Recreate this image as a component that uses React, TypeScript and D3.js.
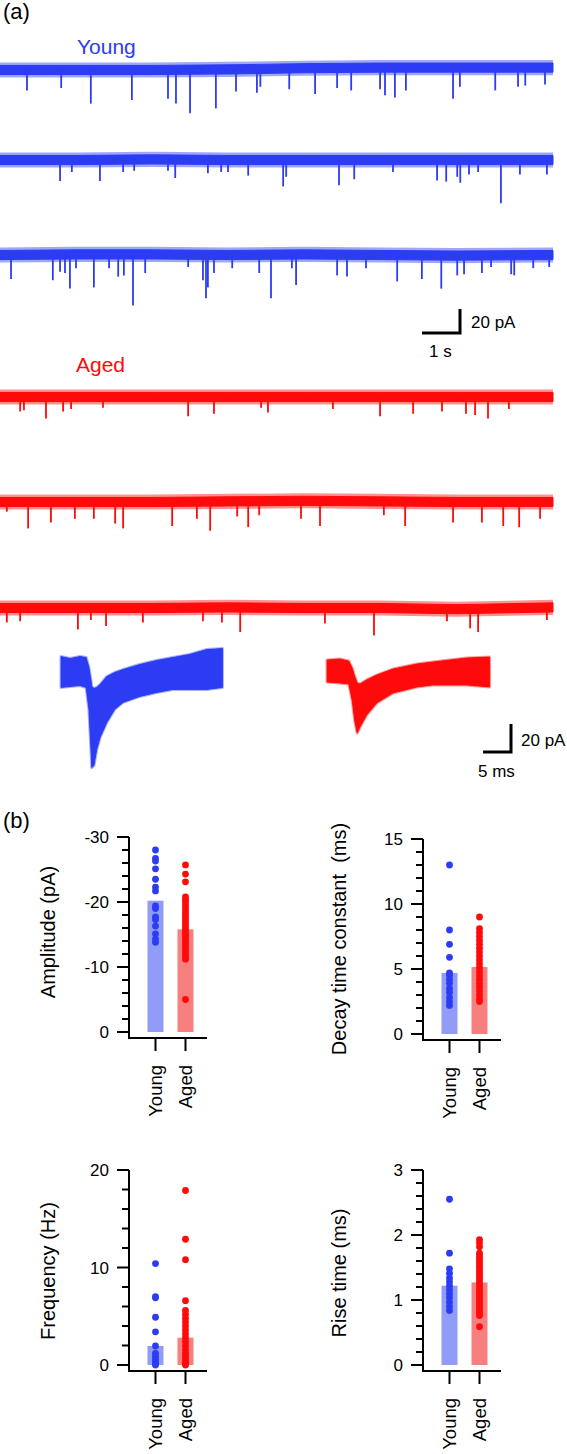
import React from 'react';
import * as d3 from 'd3';

const FONT = '"Liberation Sans", Arial, Helvetica, sans-serif';
const BLUE = '#2b3cf2';
const RED = '#ff0a0a';
const BLUE_BAR = '#909cf7';
const RED_BAR = '#f7807f';

const groups = ['Young', 'Aged'];

// ---------- (a) continuous recordings: events [time s, amplitude pA] ----------
const TRACE_DURATION_S = 14.55;
const driftTimes = [0, 2, 4, 6, 8, 10, 12, 14.55];

const youngDrift1 = [0, 0, 0, 0.5, 1.5, 2, 2, 2];
const youngDrift2 = [0, 0, 0.5, 0, 0, 0, 0, 0];
const youngDrift3 = [0, 0.5, 0.5, 0, 0.5, 0, -0.5, 0];
const agedDrift1 = [0, 0, 0, 0, 0, 0, 0, 0];
const agedDrift2 = [0, 0, 0, 0.5, 1, 0.5, 0, 0];
const agedDrift3 = [0, 0, 0, 0.5, 0, 0, -1, 0.5];

const youngEvents1: [number, number][] = [
  [0.71, -17], [1.61, -15], [2.39, -28], [3.47, -25], [4.42, -24], [4.63, -28], [5.0, -36],
  [5.68, -32], [6.21, -18], [6.76, -19], [6.85, -14], [7.61, -16], [8.29, -20], [8.87, -15],
  [9.24, -17], [10.0, -16], [10.13, -21], [10.39, -23], [10.68, -17], [11.92, -24], [12.1, -14],
  [13.03, -17], [13.63, -14], [13.82, -13], [14.34, -12],
];
const youngEvents2: [number, number][] = [
  [1.58, -17.5], [1.89, -10], [2.63, -17.5], [3.24, -10], [3.53, -9], [4.42, -9], [4.61, -15],
  [5.47, -11], [5.82, -10], [6.0, -10], [6.53, -13], [7.45, -22], [7.53, -14], [8.92, -21],
  [9.32, -16], [10.34, -10], [11.5, -17], [11.74, -18], [12.03, -14], [12.11, -19], [12.34, -12],
  [12.58, -10], [13.18, -36], [13.68, -12], [14.39, -12],
];
const youngEvents3: [number, number][] = [
  [0.29, -20], [1.39, -21], [1.58, -14], [1.71, -15], [1.84, -28], [2.0, -11], [2.47, -27],
  [2.87, -11], [3.11, -18], [3.26, -17], [3.5, -42], [3.82, -15], [4.95, -10], [5.34, -21],
  [5.42, -36], [5.47, -27], [5.63, -15], [6.11, -11], [6.82, -15], [7.13, -36], [7.68, -11],
  [7.79, -25], [8.87, -17], [9.13, -18], [9.63, -11], [10.45, -22], [11.1, -20], [11.61, -28],
  [12.03, -17], [12.21, -16], [12.68, -15], [12.92, -10], [13.45, -16], [13.53, -17],
  [14.03, -11], [14.45, -10],
];
const agedEvents1: [number, number][] = [
  [0.53, -12], [0.63, -11], [1.21, -18], [1.66, -12], [1.87, -10], [2.71, -9], [4.95, -16],
  [5.63, -14], [6.87, -9], [7.05, -13], [8.76, -10], [10.0, -16], [10.87, -14], [11.63, -12],
  [12.26, -14], [12.5, -15], [12.84, -18], [13.39, -10],
];
const agedEvents2: [number, number][] = [
  [0.18, -8], [0.74, -22], [1.34, -17], [1.97, -14], [2.47, -14], [3.03, -18], [3.24, -22],
  [4.53, -20], [5.18, -14], [5.53, -24], [6.24, -12], [6.53, -21], [6.82, -11], [7.92, -14],
  [8.42, -20], [10.1, -11], [10.66, -20], [11.92, -17], [12.68, -17], [13.24, -20],
  [13.66, -21], [14.21, -14],
];
const agedEvents3: [number, number][] = [
  [0.18, -12], [0.53, -11], [2.05, -18], [2.39, -10], [2.79, -15], [3.76, -12], [5.34, -11],
  [5.84, -12], [6.32, -20], [8.55, -13], [9.84, -23], [11.76, -11], [12.37, -17], [12.58, -20],
  [14.39, -10],
];

// ---------- (a) averaged events: envelope of overlaid sweeps [ms, pA] ----------
const youngAvgT = [0, 1.6, 3.4, 4.5, 5.0, 5.4, 5.5, 5.9, 6.4, 7.0, 8.2, 9.6, 11.1, 14.1, 17.1, 20, 23, 26.1, 28.9];
const youngAvgUpper = [11.4, 10, 11.4, 10.7, 3.6, -6.4, -10, -11.4, -10.7, -8.6, -2.9, 0, 2.1, 5.7, 8.6, 10.7, 12.9, 16.4, 17.1];
const youngAvgLower = [-10.7, -10, -9.3, -10.7, -26.4, -58.6, -67.9, -66.4, -55, -46.4, -35.7, -26.4, -21.4, -17.1, -14.3, -12.1, -12.1, -12.1, -10.7];

const agedAvgT = [0, 2.3, 3.9, 4.5, 5.0, 5.4, 5.9, 7.1, 8.9, 11.8, 16.1, 18.9, 25, 29.1];
const agedAvgUpper = [7.9, 8.6, 7.1, 2.1, -4.3, -8.6, -9.3, -6.4, -2.9, 1.4, 5, 6.4, 9.3, 10];
const agedAvgLower = [-7.9, -8.6, -9.3, -20.7, -36.4, -44.3, -40, -31.4, -22.9, -15.7, -11.4, -10, -10, -11.4];

// ---------- (b) summary data ----------
const ampYoung = [-28.0, -26.7, -26.3, -25.1, -23.5, -22.3, -21.7, -19.4, -19.0, -17.7, -17.3, -16.3, -15.1, -14.3, -13.8];
const ampAged = [-25.7, -24.3, -23.1, -20.8, -20.4, -20.0, -19.5, -19.0, -18.6, -18.2, -17.8, -17.4, -17.0, -16.6, -16.2, -15.8, -15.4, -15.0, -14.6, -14.2, -13.8, -13.4, -13.0, -12.5, -12.0, -11.6, -11.2, -5.0];
const ampMeans = [-20.2, -15.8];

const decayYoung = [13.0, 8.0, 6.9, 5.9, 4.7, 4.5, 4.2, 3.9, 3.5, 3.2, 2.8, 2.5, 2.2];
const decayAged = [9.0, 8.1, 7.8, 7.5, 7.2, 6.9, 6.6, 6.3, 6.0, 5.7, 5.4, 5.1, 4.8, 4.5, 4.2, 3.9, 3.6, 3.3, 3.0, 2.7, 2.5];
const decayMeans = [4.7, 5.15];

const freqYoung = [10.4, 7.0, 6.9, 4.9, 3.4, 1.95, 1.2, 0.9, 0.6, 0.3, 0.1, 0.0];
const freqAged = [17.9, 12.9, 10.8, 6.6, 5.6, 5.2, 4.8, 4.4, 4.0, 3.6, 3.2, 2.8, 2.4, 2.0, 1.6, 1.2, 0.9, 0.6, 0.3, 0.1, 0.0];
const freqMeans = [1.95, 2.8];

const riseYoung = [2.55, 1.72, 1.48, 1.41, 1.34, 1.28, 1.22, 1.16, 1.10, 1.04, 0.97, 0.90, 0.84];
const riseAged = [1.93, 1.88, 1.82, 1.72, 1.68, 1.64, 1.60, 1.56, 1.52, 1.48, 1.44, 1.40, 1.36, 1.32, 1.28, 1.24, 1.20, 1.16, 1.12, 1.08, 1.04, 1.00, 0.96, 0.92, 0.88, 0.84, 0.80, 0.76, 0.59];
const riseMeans = [1.22, 1.27];

// ---------- layout ----------
const W = 567;
const H = 1454;
const traceRowY = [70, 160, 255, 397, 502, 608];
const NOISE_CORE_PA = 3.8;
const NOISE_OUTER_PA = 6.3;

const xT = d3.scaleLinear().domain([0, TRACE_DURATION_S]).range([0, 553]);
const yT = d3.scaleLinear().domain([0, 20]).range([0, -24]);

const xAvg = d3.scaleLinear().domain([0, 29]).range([0, 162]);
const yAvg = d3.scaleLinear().domain([0, 20]).range([0, -28]);

function Trace({ cy, drift, events, color }: { cy: number; drift: number[]; events: [number, number][]; color: string }) {
  const band = (w: number) =>
    d3
      .area<number>()
      .x((_, i) => xT(driftTimes[i]))
      .y0((d) => cy + yT(d - w))
      .y1((d) => cy + yT(d + w))(drift) || '';
  return (
    <g>
      <path d={band(NOISE_OUTER_PA)} fill={color} opacity={0.45} />
      <path d={band(NOISE_CORE_PA)} fill={color} stroke={color} strokeWidth={1} />
      {events.map(([t, a], i) => (
        <line key={i} x1={xT(t)} x2={xT(t)} y1={cy} y2={cy + yT(a)} stroke={color} strokeWidth={1.8} />
      ))}
    </g>
  );
}

function AvgTrace({ x0, y0, t, up, lo, color }: { x0: number; y0: number; t: number[]; up: number[]; lo: number[]; color: string }) {
  const area = d3
    .area<number>()
    .x((d) => x0 + xAvg(d))
    .y0((_, i) => y0 + yAvg(lo[i]))
    .y1((_, i) => y0 + yAvg(up[i]));
  const d = area(t) || '';
  return (
    <g>
      <path d={d} fill={color} stroke={color} strokeOpacity={0.4} strokeWidth={3} strokeLinejoin="round" />
      <path d={d} fill={color} stroke={color} strokeWidth={0.8} strokeLinejoin="round" />
    </g>
  );
}

type PanelProps = {
  axisX: number;
  yTop: number;
  y0: number;
  domain: [number, number];
  majors: number[];
  minorStep: number;
  title: string;
  titleX: number;
  titleY: number;
  young: number[];
  aged: number[];
  means: number[];
};

function BarPanel(p: PanelProps) {
  const y = d3.scaleLinear().domain(p.domain).range([p.y0, p.yTop]);
  const x = d3.scalePoint<string>().domain(groups).range([p.axisX + 26.5, p.axisX + 56.5]);
  const n = Math.round((p.domain[1] - p.domain[0]) / p.minorStep);
  const minors = d3.range(n + 1).map((i) => p.domain[0] + i * p.minorStep);
  const isMajor = (v: number) => p.majors.some((m) => Math.abs(m - v) < 1e-6);
  const xAxisY = p.y0 + 6;
  const barW = 16;
  return (
    <g>
      {p.means.map((m, i) => {
        const g = groups[i];
        const yy = Math.min(y(0), y(m));
        return (
          <rect key={g} x={(x(g) as number) - barW / 2} y={yy} width={barW} height={Math.abs(y(m) - y(0))}
            fill={i === 0 ? BLUE_BAR : RED_BAR} />
        );
      })}
      {p.young.map((v, i) => (
        <circle key={'y' + i} cx={x('Young')} cy={y(v)} r={3.4} fill={BLUE} />
      ))}
      {p.aged.map((v, i) => (
        <circle key={'a' + i} cx={x('Aged')} cy={y(v)} r={3.4} fill={RED} />
      ))}
      <line x1={p.axisX} x2={p.axisX} y1={p.yTop} y2={xAxisY + 1} stroke="#000" strokeWidth={2} />
      <line x1={p.axisX - 1} x2={p.axisX + 78} y1={xAxisY} y2={xAxisY} stroke="#000" strokeWidth={2} />
      {minors.map((v, i) => (
        <line key={i} x1={p.axisX - (isMajor(v) ? 12 : 7)} x2={p.axisX} y1={y(v)} y2={y(v)} stroke="#000" strokeWidth={2} />
      ))}
      {p.majors.map((v) => (
        <text key={v} x={p.axisX - 20} y={y(v)} dy="0.36em" textAnchor="end" fontSize={17} fontFamily={FONT} fill="#000">
          {String(v)}
        </text>
      ))}
      {groups.map((g) => (
        <g key={g}>
          <line x1={x(g)} x2={x(g)} y1={xAxisY} y2={xAxisY + 13} stroke="#000" strokeWidth={2} />
          <text transform={`translate(${(x(g) as number) + 6},${xAxisY + 27}) rotate(-90)`} textAnchor="end"
            fontSize={18.5} fontFamily={FONT} fill="#000">
            {g}
          </text>
        </g>
      ))}
      <text transform={`translate(${p.titleX},${p.titleY}) rotate(-90)`} textAnchor="middle" fontSize={20}
        fontFamily={FONT} fill="#000" style={{ whiteSpace: 'pre' }}>
        {p.title}
      </text>
    </g>
  );
}

export default function App() {
  const traces = [
    { drift: youngDrift1, events: youngEvents1, color: BLUE },
    { drift: youngDrift2, events: youngEvents2, color: BLUE },
    { drift: youngDrift3, events: youngEvents3, color: BLUE },
    { drift: agedDrift1, events: agedEvents1, color: RED },
    { drift: agedDrift2, events: agedEvents2, color: RED },
    { drift: agedDrift3, events: agedEvents3, color: RED },
  ];
  const sb1H = xT(1) - xT(0);
  const sb1V = yT(20);
  const sb2H = xAvg(5) - xAvg(0);
  const sb2V = yAvg(20);
  const c1 = { x: 460, y: 333 };
  const c2 = { x: 511, y: 752 };

  return (
    <svg width={W} height={H} style={{ position: 'absolute', left: 0, top: 0, background: '#fff' }}>
      <rect width={W} height={H} fill="#fff" />
      <text x={3} y={18.5} fontSize={22} fontFamily={FONT} fill="#000">(a)</text>
      <text x={77} y={54} fontSize={21} fontFamily={FONT} fill={BLUE}>Young</text>
      <text x={76} y={372} fontSize={21} fontFamily={FONT} fill={RED}>Aged</text>
      {traces.map((t, i) => (
        <Trace key={i} cy={traceRowY[i]} drift={t.drift} events={t.events} color={t.color} />
      ))}
      <path d={`M${c1.x - sb1H},${c1.y}H${c1.x}V${c1.y + sb1V}`} fill="none" stroke="#000" strokeWidth={3} />
      <text x={471} y={328} fontSize={17} fontFamily={FONT} fill="#000">20 pA</text>
      <text x={429} y={357} fontSize={17} fontFamily={FONT} fill="#000">1 s</text>

      <AvgTrace x0={61} y0={672.5} t={youngAvgT} up={youngAvgUpper} lo={youngAvgLower} color={BLUE} />
      <AvgTrace x0={327} y0={671} t={agedAvgT} up={agedAvgUpper} lo={agedAvgLower} color={RED} />
      <path d={`M${c2.x - sb2H},${c2.y}H${c2.x}V${c2.y + sb2V}`} fill="none" stroke="#000" strokeWidth={3} />
      <text x={521} y={746} fontSize={17} fontFamily={FONT} fill="#000">20 pA</text>
      <text x={478} y={777} fontSize={17} fontFamily={FONT} fill="#000">5 ms</text>

      <text x={3} y={828} fontSize={22} fontFamily={FONT} fill="#000">(b)</text>
      <BarPanel axisX={129} yTop={837} y0={1032} domain={[0, -30]} majors={[0, -10, -20, -30]} minorStep={-2}
        title="Amplitude (pA)" titleX={55} titleY={932} young={ampYoung} aged={ampAged} means={ampMeans} />
      <BarPanel axisX={423} yTop={839} y0={1034} domain={[0, 15]} majors={[0, 5, 10, 15]} minorStep={1}
        title={'Decay time constant  (ms)'} titleX={346} titleY={939} young={decayYoung} aged={decayAged} means={decayMeans} />
      <BarPanel axisX={129} yTop={1170} y0={1365} domain={[0, 20]} majors={[0, 10, 20]} minorStep={2}
        title="Frequency (Hz)" titleX={55} titleY={1271} young={freqYoung} aged={freqAged} means={freqMeans} />
      <BarPanel axisX={423} yTop={1170} y0={1365} domain={[0, 3]} majors={[0, 1, 2, 3]} minorStep={0.2}
        title="Rise time (ms)" titleX={346} titleY={1273} young={riseYoung} aged={riseAged} means={riseMeans} />
    </svg>
  );
}
